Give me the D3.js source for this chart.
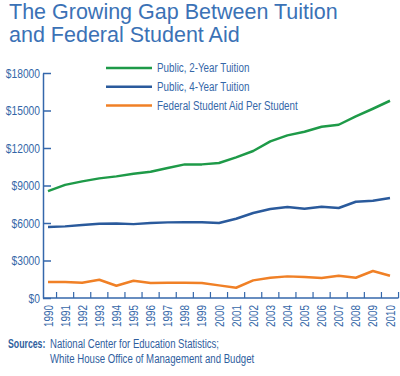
<!DOCTYPE html>
<html>
<head>
<meta charset="utf-8">
<script src="https://cdn.jsdelivr.net/npm/d3@7"></script>
<style>
  body { margin: 0; background: #fff; }
  svg text { font-family: "Liberation Sans", Arial, sans-serif; }
</style>
</head>
<body>
<svg id="chart" width="400" height="376"></svg>
<script>
var years = d3.range(1990, 2011);
var twoYear = [8550, 9050, 9330, 9570, 9730, 9940, 10100, 10400, 10690, 10690, 10800,
  11250, 11760, 12530, 13010, 13300, 13700, 13860, 14530, 15140, 15780];
var fourYear = [5680, 5730, 5840, 5940, 5960, 5910, 6000, 6050, 6060, 6060, 6000,
  6340, 6800, 7120, 7280, 7140, 7300, 7200, 7700, 7780, 8000];
var federalAid = [1280, 1280, 1220, 1460, 980, 1380, 1200, 1220, 1220, 1200, 1010,
  820, 1410, 1620, 1730, 1680, 1600, 1780, 1620, 2160, 1780];
var yTicks = [0, 3000, 6000, 9000, 12000, 15000, 18000];
var seriesNames = ['Public, 2-Year Tuition', 'Public, 4-Year Tuition', 'Federal Student Aid Per Student'];
var seriesColors = ['#1e9a48', '#2a5a9c', '#f08026'];

var textBlue = '#3567a8';
var axisBlue = '#3467ab';

var svg = d3.select('#chart');

var x = d3.scaleLinear().domain([1990, 2010]).range([48, 390]);
var y = d3.scaleLinear().domain([0, 18000]).range([298, 73]);

// no narrow font installed, so squeeze the labels to look condensed
function condense(sel, factor) {
  sel.each(function(){
    var w = this.getComputedTextLength();
    d3.select(this).attr('textLength', w * factor).attr('lengthAdjust', 'spacingAndGlyphs');
  });
}

// title
var title = svg.append('g').attr('fill', '#3b72b6').style('font-size', '21.5px');
title.append('text').attr('x', 9).attr('y', 19).text('The Growing Gap Between Tuition');
title.append('text').attr('x', 9).attr('y', 42).text('and Federal Student Aid');

// y axis
var yAxis = svg.append('g')
  .attr('transform', 'translate(43,0)')
  .call(d3.axisLeft(y).tickValues(yTicks).tickSize(-8).tickSizeOuter(0).tickPadding(3)
    .tickFormat(function(d){ return '$' + d; }));
yAxis.selectAll('path, line').attr('stroke', axisBlue).attr('stroke-width', 1.5);
yAxis.selectAll('text').attr('fill', textBlue).style('font-size', '12.5px').call(condense, 0.82);

// x axis, ticks sit between the years
var xAxis = svg.append('g').attr('class', 'x-axis');
xAxis.append('line')
  .attr('x1', 43).attr('x2', x(2010.5))
  .attr('y1', y(0)).attr('y2', y(0))
  .attr('stroke', axisBlue).attr('stroke-width', 1.5);
xAxis.selectAll('.tick')
  .data(years)
  .enter().append('line')
  .attr('x1', function(d){ return x(d + 0.5); })
  .attr('x2', function(d){ return x(d + 0.5); })
  .attr('y1', y(0)).attr('y2', y(0) - 6)
  .attr('stroke', axisBlue).attr('stroke-width', 1.2);
xAxis.selectAll('.year')
  .data(years)
  .enter().append('text')
  .attr('transform', function(d){ return 'translate(' + (x(d) + 4.5) + ',305) rotate(-90)'; })
  .attr('text-anchor', 'end')
  .attr('fill', textBlue)
  .style('font-size', '12.5px')
  .text(function(d){ return d; })
  .call(condense, 0.79);

// lines
var line = d3.line()
  .x(function(d, i){ return x(years[i]); })
  .y(function(d){ return y(d); });

[twoYear, fourYear, federalAid].forEach(function(values, i){
  svg.append('path')
    .datum(values)
    .attr('d', line)
    .attr('fill', 'none')
    .attr('stroke', seriesColors[i])
    .attr('stroke-width', 2.5)
    .attr('stroke-linejoin', 'round');
});

// legend
var legend = svg.append('g').selectAll('g')
  .data(seriesNames)
  .enter().append('g')
  .attr('transform', function(d, i){ return 'translate(106,' + (68 + i * 18.8) + ')'; });
legend.append('line')
  .attr('x1', 0).attr('x2', 46)
  .attr('stroke', function(d, i){ return seriesColors[i]; })
  .attr('stroke-width', 2.5);
legend.append('text')
  .attr('x', 51).attr('y', 4)
  .attr('fill', textBlue)
  .style('font-size', '12.5px')
  .text(function(d){ return d; })
  .call(condense, 0.785);

// sources
var sources = svg.append('g').attr('fill', '#2f5e9e').style('font-size', '12.5px');
sources.append('text')
  .attr('transform', 'translate(8,348) scale(0.7,1)')
  .style('font-weight', 'bold')
  .text('Sources:');
sources.append('text').attr('x', 50).attr('y', 348)
  .text('National Center for Education Statistics;').call(condense, 0.765);
sources.append('text').attr('x', 50).attr('y', 362.5)
  .text('White House Office of Management and Budget').call(condense, 0.77);
</script>
</body>
</html>
